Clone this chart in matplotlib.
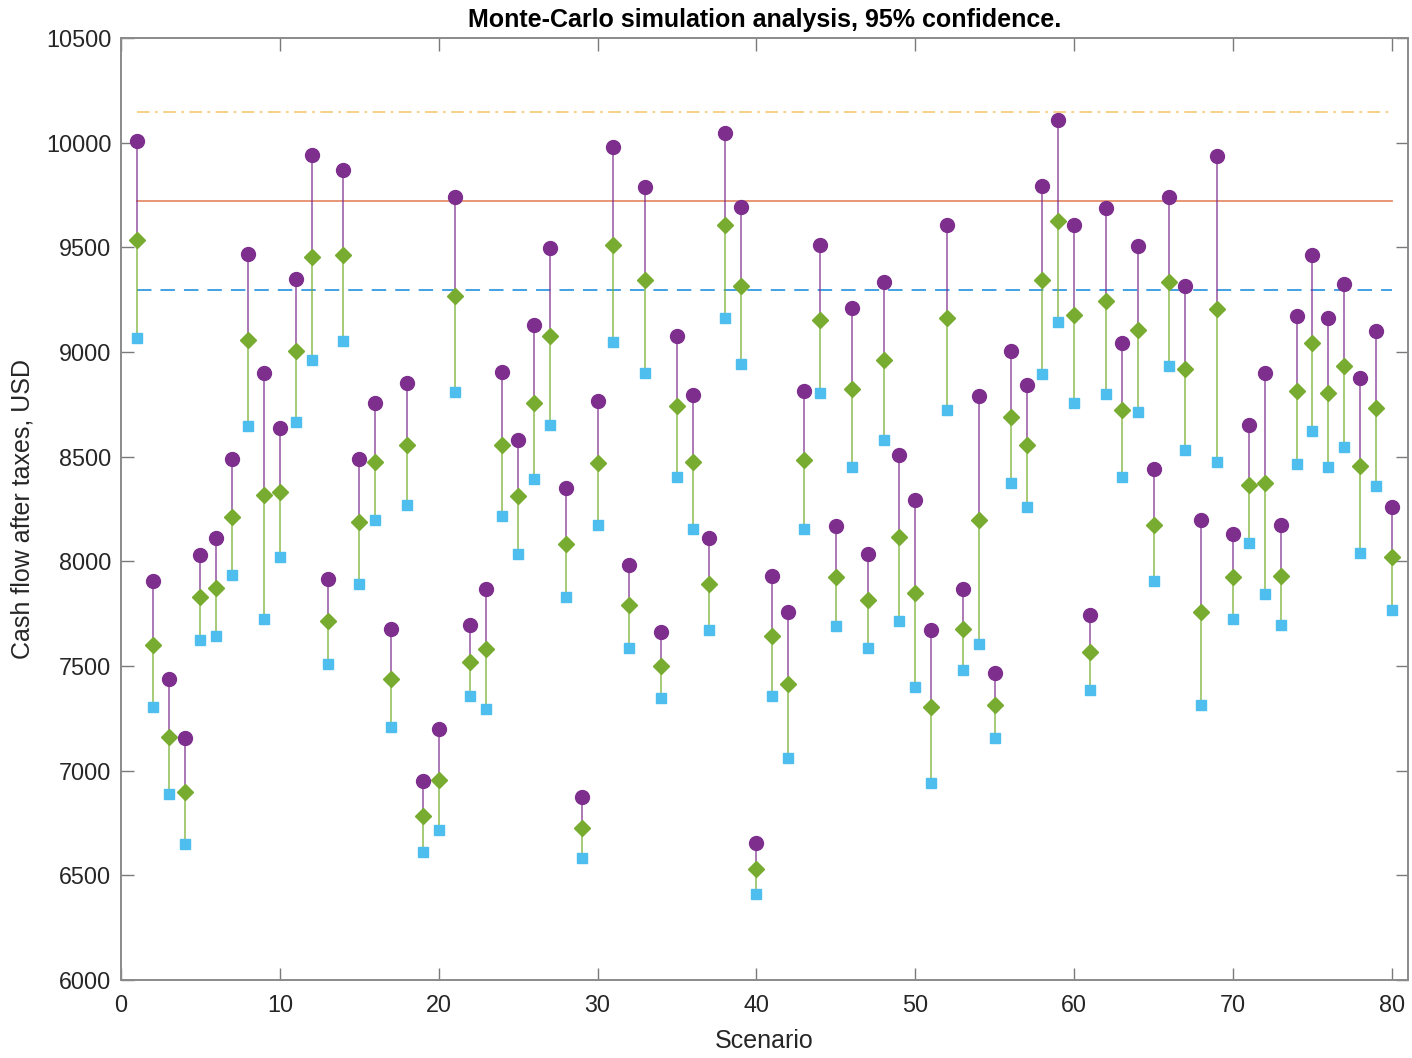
import numpy as np
import matplotlib
matplotlib.use("Agg")
import matplotlib.pyplot as plt

# ---- data ----
scenario = np.arange(1, 81)
upper = [10010, 7905, 7437, 7157, 8030, 8112, 8487, 9470, 8900, 8637,
         9350, 9942, 7917, 9870, 8487, 8757, 7675, 8850, 6950, 7200,
         9742, 7695, 7870, 8905, 8582, 9130, 9497, 8350, 6875, 8765,
         9982, 7985, 9787, 7662, 9075, 8797, 8112, 10045, 9695, 6655,
         7932, 7757, 8812, 9512, 8167, 9210, 8037, 9335, 8510, 8295,
         7670, 9605, 7870, 8792, 7467, 9007, 8845, 9795, 10110, 9605,
         7742, 9687, 9042, 9505, 8442, 9742, 9317, 8200, 9937, 8132,
         8650, 8900, 8175, 9170, 9465, 9165, 9325, 8875, 9102, 8260]
mid = [9537, 7600, 7162, 6900, 7830, 7875, 8212, 9060, 8317, 8330,
       9007, 9452, 7715, 9462, 8187, 8475, 7440, 8557, 6782, 6955,
       9270, 7520, 7580, 8557, 8312, 8757, 9075, 8085, 6725, 8470,
       9510, 7790, 9342, 7500, 8740, 8475, 7890, 9607, 9317, 6530,
       7642, 7412, 8482, 9155, 7925, 8825, 7817, 8962, 8115, 7850,
       7305, 9162, 7675, 8200, 7312, 8690, 8557, 9345, 9625, 9175,
       7567, 9242, 8725, 9107, 8175, 9337, 8920, 7757, 9205, 7925,
       8367, 8375, 7932, 8812, 9042, 8805, 8935, 8457, 8732, 8020]
lower = [9067, 7305, 6887, 6650, 7625, 7642, 7937, 8645, 7725, 8020,
         8665, 8960, 7512, 9055, 7892, 8200, 7207, 8267, 6612, 6717,
         8807, 7355, 7295, 8215, 8037, 8392, 8650, 7832, 6582, 8175,
         9047, 7587, 8900, 7347, 8405, 8155, 7670, 9165, 8942, 6412,
         7355, 7062, 8155, 8805, 7692, 8450, 7587, 8582, 7717, 7400,
         6942, 8725, 7480, 7607, 7157, 8375, 8262, 8895, 9142, 8755,
         7387, 8800, 8405, 8712, 7907, 8935, 8530, 7312, 8475, 7725,
         8087, 7845, 7695, 8465, 8625, 8450, 8545, 8040, 8362, 7770]
ref_low, ref_mean, ref_high = 9295, 9720, 10145

purple = "#7E2F8E"
green = "#77AC30"
cyan = "#4DBEEE"

plt.rcParams["font.family"] = ["Liberation Sans", "DejaVu Sans"]
fig = plt.figure(figsize=(14.12, 10.58), dpi=100)
ax = fig.add_axes([0.0857, 0.0737, 0.9113, 0.8903])

ends = [scenario[0], scenario[-1]]
ax.plot(ends, [ref_high] * 2, color="#F3C25C", lw=1.3, alpha=0.8, linestyle=(0, (7, 3, 1.5, 3)))
ax.plot(ends, [ref_mean] * 2, color="#E07A50", lw=1.3, alpha=0.85)
ax.plot(ends, [ref_low] * 2, color="#1F8FE0", lw=1.3, alpha=0.9, linestyle=(0, (8, 5)))

ax.vlines(scenario, mid, upper, color=purple, lw=1.3, alpha=0.7)
ax.vlines(scenario, lower, mid, color=green, lw=1.3, alpha=0.7)
ax.plot(scenario, upper, "o", color=purple, ms=10, mec=purple)
ax.plot(scenario, mid, "D", color=green, ms=8.5, mec=green)
ax.plot(scenario, lower, "s", color=cyan, ms=6.5, mec=cyan)

ax.set_xlim(0, 81)
ax.set_ylim(6000, 10500)
ax.set_xticks(np.arange(0, 81, 10))
ax.set_yticks(np.arange(6000, 10501, 500))
ax.tick_params(direction="in", length=9, width=1, colors="#7a7a7a",
               labelcolor="#262626", labelsize=16.8, top=True, right=True, pad=7)
ax.tick_params(axis="x", pad=10)
for s in ax.spines.values():
    s.set_color("#8a8a8a")
    s.set_linewidth(1.4)

ax.set_title("Monte-Carlo simulation analysis, 95% confidence.", fontsize=18,
             fontweight="bold", color="black", pad=8)
ax.set_xlabel("Scenario", fontsize=18, color="#262626", labelpad=9)
ax.set_ylabel("Cash flow after taxes, USD", fontsize=18, color="#262626", labelpad=8)

fig.savefig("out.png", dpi=100)
